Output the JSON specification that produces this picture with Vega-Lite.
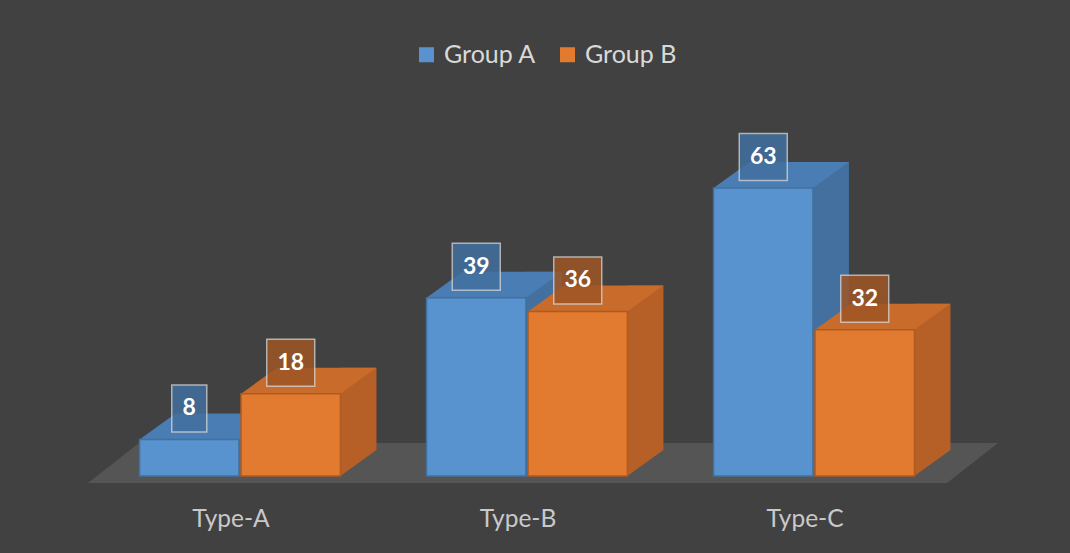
{
  "$schema": "https://vega.github.io/schema/vega-lite/v6.json",
  "autosize": "none",
  "width": 861,
  "height": 320,
  "padding": {"left": 96.5, "top": 156, "right": 112.5, "bottom": 77},
  "background": "#414141",
  "config": {"view": {"stroke": null}, "font": "Lato"},
  "data": {"values": [
    {"type": "Type-A", "group": "Group A", "value": 8},
    {"type": "Type-A", "group": "Group B", "value": 18},
    {"type": "Type-B", "group": "Group A", "value": 39},
    {"type": "Type-B", "group": "Group B", "value": 36},
    {"type": "Type-C", "group": "Group A", "value": 63},
    {"type": "Type-C", "group": "Group B", "value": 32}
  ]},
  "encoding": {
    "x": {"field": "type", "type": "nominal", "scale": {"paddingInner": 0.3, "paddingOuter": 0.15},
      "axis": {"title": null, "domain": false, "ticks": false, "labelAngle": 0, "labelColor": "#c9c9c9", "labelFontSize": 24.5, "labelFont": "Lato", "labelPadding": 31, "labelOffset": -9}},
    "y": {"type": "quantitative", "scale": {"domain": [0, 70]}, "axis": null}
  },
  "layer": [
    {
      "transform": [{"filter": "datum.type === 'Type-B' && datum.group === 'Group A'"}],
      "mark": {"type": "point", "filled": true, "size": 810000, "opacity": 1, "color": "#555555",
        "shape": "M-0.9756,0.0156L0.9333,0.0156L1.0467,-0.0733L-0.8622,-0.0733Z"},
      "encoding": {"x": {"field": "type", "type": "nominal"}, "y": {"datum": 0}}
    },
    {
      "transform": [{"filter": "datum.group === 'Group A'"}],
      "mark": {"type": "bar", "width": 36, "xOffset": 16.95, "yOffset": -26, "y2Offset": -26, "color": "#44709f"},
      "encoding": {"y": {"field": "value", "type": "quantitative"}}
    },
    {
      "transform": [{"filter": "datum.group === 'Group B'"}],
      "mark": {"type": "bar", "width": 36, "xOffset": 118.45, "yOffset": -26, "y2Offset": -26, "color": "#b65f26"},
      "encoding": {"y": {"field": "value", "type": "quantitative"}}
    },
    {
      "mark": {"type": "point", "filled": true, "size": 40000, "opacity": 1,
        "shape": "M0.497,-0.26L0.497,0L0.857,-0.26Z"},
      "encoding": {
        "y": {"datum": 0},
        "xOffset": {"field": "group", "type": "nominal"},
        "fill": {"condition": {"test": "datum.group === 'Group A'", "value": "#44709f"}, "value": "#b65f26"}
      }
    },
    {
      "mark": {"type": "point", "filled": true, "size": 40000, "opacity": 1,
        "shape": "M-0.497,0L0.497,0L0.857,-0.26L-0.137,-0.26Z"},
      "encoding": {
        "y": {"field": "value", "type": "quantitative"},
        "xOffset": {"field": "group", "type": "nominal"},
        "fill": {"condition": {"test": "datum.group === 'Group A'", "value": "#4a7db4"}, "value": "#c86b2b"}
      }
    },
    {
      "mark": {"type": "bar", "strokeWidth": 1.5},
      "encoding": {
        "y": {"field": "value", "type": "quantitative"},
        "xOffset": {"field": "group", "type": "nominal", "scale": {"paddingInner": 0.02}},
        "color": {"field": "group", "type": "nominal", "scale": {"domain": ["Group A", "Group B"], "range": ["#5893cf", "#e27b30"]},
          "legend": {"title": null, "orient": "none", "direction": "horizontal", "legendX": 317.5, "legendY": -114,
            "labelFont": "Lato", "labelFontSize": 25, "labelColor": "#d9d9d9", "symbolType": "square", "symbolSize": 225,
            "symbolStrokeWidth": 0, "labelOffset": 5, "columnPadding": 18}},
        "stroke": {"condition": {"test": "datum.group === 'Group A'", "value": "#41719c"}, "value": "#ae5a21"}
      }
    },
    {
      "mark": {"type": "point", "filled": true, "size": 2304, "yOffset": -31, "stroke": "#d4d4d4", "strokeWidth": 1.5, "strokeOpacity": 0.9},
      "encoding": {
        "y": {"field": "value", "type": "quantitative"},
        "xOffset": {"field": "group", "type": "nominal"},
        "shape": {"condition": {"test": "datum.value < 10", "value": "M-0.73,-0.98H0.73V0.98H-0.73Z"}, "value": "M-1.0,-0.98H1.0V0.98H-1.0Z"},
        "fill": {"condition": {"test": "datum.group === 'Group A'", "value": "#416f9f"}, "value": "#9e5525"},
        "opacity": {"value": 0.85}
      }
    },
    {
      "mark": {"type": "text", "yOffset": -31, "baseline": "middle", "align": "center", "fontSize": 23, "fontWeight": "bold", "font": "Lato", "color": "#ffffff"},
      "encoding": {
        "y": {"field": "value", "type": "quantitative"},
        "xOffset": {"field": "group", "type": "nominal"},
        "text": {"field": "value", "type": "quantitative"}
      }
    }
  ]
}
